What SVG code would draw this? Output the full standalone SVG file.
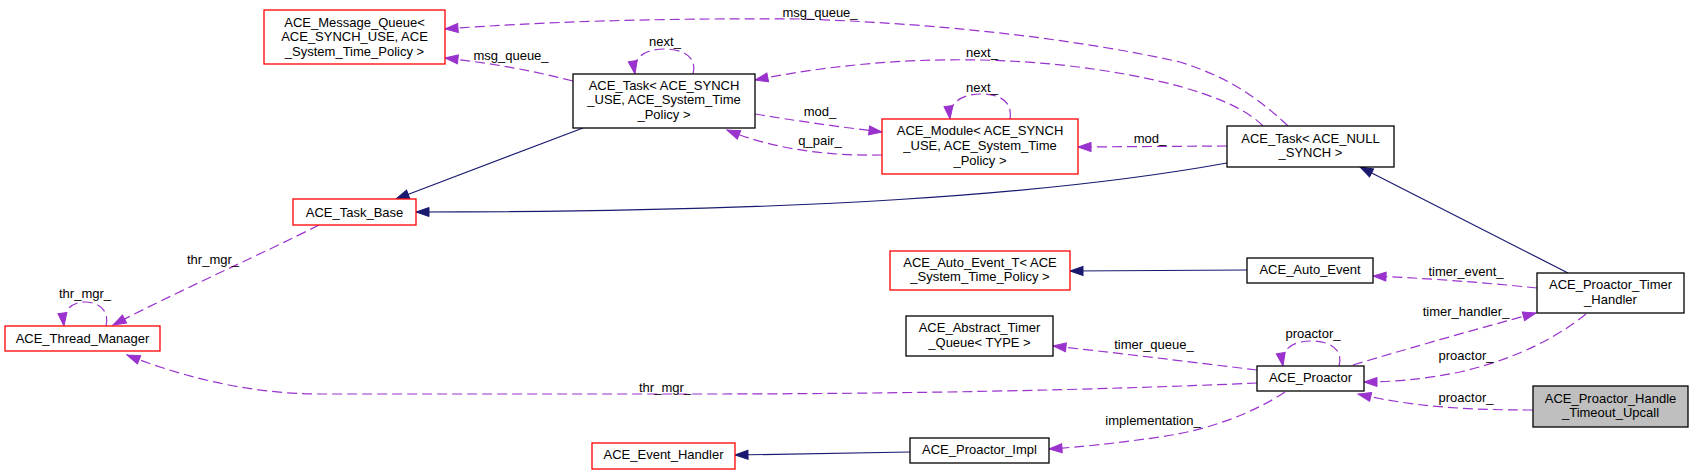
<svg xmlns="http://www.w3.org/2000/svg" width="1693" height="475" viewBox="0 0 1693 475">
<style>
text{font-family:"Liberation Sans",Arial,sans-serif;font-size:13px;fill:#000;text-anchor:middle}
.n{fill:#fff;stroke:#000;stroke-width:1.3}
.r{fill:#fff;stroke:#ff0000;stroke-width:1.3}
.g{fill:#bfbfbf;stroke:#000;stroke-width:1.3}
.u{fill:none;stroke:#9a32cd;stroke-width:1.2;stroke-dasharray:10,5;marker-end:url(#pa)}
.i{fill:none;stroke:#191970;stroke-width:1.2;marker-end:url(#ba)}
</style>
<defs>
<marker id="pa" markerUnits="userSpaceOnUse" markerWidth="14" markerHeight="10" refX="13" refY="4.5" orient="auto" overflow="visible"><path d="M0,0 L13,4.5 L0,9 z" fill="#9a32cd" stroke="#9a32cd" stroke-width="1"/></marker>
<marker id="ba" markerUnits="userSpaceOnUse" markerWidth="14" markerHeight="10" refX="13" refY="4.5" orient="auto" overflow="visible"><path d="M0,0 L13,4.5 L0,9 z" fill="#191970" stroke="#191970" stroke-width="1"/></marker>
</defs>
<rect width="1693" height="475" fill="#fff"/>
<g id="edges">
<path class="u" d="M1288,126 C1250,90 1220,75 1180,62 C1090,42 960,24 800,19 C650,18 540,22 445,29"/>
<text x="820" y="16.5">msg_queue_</text>
<path class="u" d="M1263,126 C1240,102 1180,82 1100,70 C1000,55 880,55 755,80"/>
<text x="982" y="56.5">next_</text>
<path class="u" d="M1227,146 L1078,147"/>
<text x="1150" y="142.5">mod_</text>
<path class="i" d="M1227,163 C1050,195 800,212 416,212"/>
<path class="i" d="M583,128 L396,199"/>
<path class="u" d="M693,74 C698,55 680,49 664,49 C646,49 632,57 635,74"/>
<text x="665" y="45.5">next_</text>
<path class="u" d="M755,114 C790,120 840,127 882,132"/>
<text x="820" y="115.5">mod_</text>
<path class="u" d="M882,155 C840,156 780,152 727,130"/>
<text x="820" y="144.5">q_pair_</text>
<path class="u" d="M1010,119 C1013,100 998,94 981,94 C963,94 948,102 950,119"/>
<text x="982" y="91.5">next_</text>
<path class="u" d="M573,81 C530,70 490,63 445,58"/>
<text x="511" y="59.5">msg_queue_</text>
<path class="u" d="M319,225 C260,255 180,290 113,325"/>
<text x="213" y="263.5">thr_mgr_</text>
<path class="u" d="M106,326 C110,310 98,302 85,302 C72,302 62,310 64,326"/>
<text x="85" y="297.5">thr_mgr_</text>
<path class="u" d="M1257,383 C1100,390 900,394 700,394 L320,394 C240,394 170,372 127,355"/>
<text x="665" y="391.5">thr_mgr_</text>
<path class="u" d="M1257,370 C1190,362 1110,352 1053,346"/>
<text x="1154" y="348.5">timer_queue_</text>
<path class="u" d="M1285,392 C1255,412 1210,430 1160,437 C1110,444 1080,447 1049,449"/>
<text x="1153" y="424.5">implementation_</text>
<path class="i" d="M910,452 L735,455"/>
<path class="i" d="M1247,270 L1070,271"/>
<path class="u" d="M1537,288 C1480,282 1420,278 1373,276"/>
<text x="1466" y="275.5">timer_event_</text>
<path class="i" d="M1568,273 L1360,167"/>
<path class="u" d="M1353,365 C1410,348 1480,328 1536,313"/>
<text x="1466" y="315.5">timer_handler_</text>
<path class="u" d="M1586,314 C1560,335 1520,358 1460,372 C1420,380 1390,382 1364,382"/>
<text x="1466" y="359.5">proactor_</text>
<path class="u" d="M1339,366 C1344,348 1328,341 1311,341 C1293,341 1280,349 1283,366"/>
<text x="1313" y="337.5">proactor_</text>
<path class="u" d="M1533,410 C1460,410 1410,406 1358,394"/>
<text x="1466" y="401.5">proactor_</text>
</g>
<g id="msgqueue"><rect class="r" x="264" y="10" width="181" height="54"/><text x="354.5" y="27">ACE_Message_Queue&lt;</text><text x="354.5" y="41">ACE_SYNCH_USE, ACE</text><text x="354.5" y="55.5">_System_Time_Policy &gt;</text></g>
<g id="tasksynch"><rect class="n" x="573" y="74" width="182" height="54"/><text x="664" y="89.5">ACE_Task&lt; ACE_SYNCH</text><text x="664" y="104">_USE, ACE_System_Time</text><text x="664" y="119">_Policy &gt;</text></g>
<g id="module"><rect class="r" x="882" y="119" width="196" height="55"/><text x="980" y="134.5">ACE_Module&lt; ACE_SYNCH</text><text x="980" y="150">_USE, ACE_System_Time</text><text x="980" y="165">_Policy &gt;</text></g>
<g id="tasknull"><rect class="n" x="1227" y="126" width="167" height="41"/><text x="1310.5" y="143">ACE_Task&lt; ACE_NULL</text><text x="1310.5" y="157">_SYNCH &gt;</text></g>
<g id="taskbase"><rect class="r" x="293" y="199" width="123" height="26"/><text x="354.5" y="216.5">ACE_Task_Base</text></g>
<g id="threadmgr"><rect class="r" x="5" y="326" width="155" height="25"/><text x="82.5" y="342.5">ACE_Thread_Manager</text></g>
<g id="autoeventt"><rect class="r" x="890" y="251" width="180" height="39"/><text x="980" y="267">ACE_Auto_Event_T&lt; ACE</text><text x="980" y="281">_System_Time_Policy &gt;</text></g>
<g id="abstracttq"><rect class="n" x="906" y="316" width="147" height="40"/><text x="979.5" y="332">ACE_Abstract_Timer</text><text x="979.5" y="347">_Queue&lt; TYPE &gt;</text></g>
<g id="eventhandler"><rect class="r" x="592" y="443" width="143" height="26"/><text x="663.5" y="459">ACE_Event_Handler</text></g>
<g id="proactorimpl"><rect class="n" x="910" y="438" width="139" height="25"/><text x="979.5" y="454">ACE_Proactor_Impl</text></g>
<g id="autoevent"><rect class="n" x="1247" y="258" width="126" height="25"/><text x="1310" y="274">ACE_Auto_Event</text></g>
<g id="timerhandler"><rect class="n" x="1537" y="273" width="147" height="40"/><text x="1610.5" y="289">ACE_Proactor_Timer</text><text x="1610.5" y="304">_Handler</text></g>
<g id="proactor"><rect class="n" x="1257" y="366" width="107" height="25"/><text x="1310.5" y="382">ACE_Proactor</text></g>
<g id="upcall"><rect class="g" x="1533" y="386" width="155" height="41"/><text x="1610.5" y="403">ACE_Proactor_Handle</text><text x="1610.5" y="417">_Timeout_Upcall</text></g>
</svg>
